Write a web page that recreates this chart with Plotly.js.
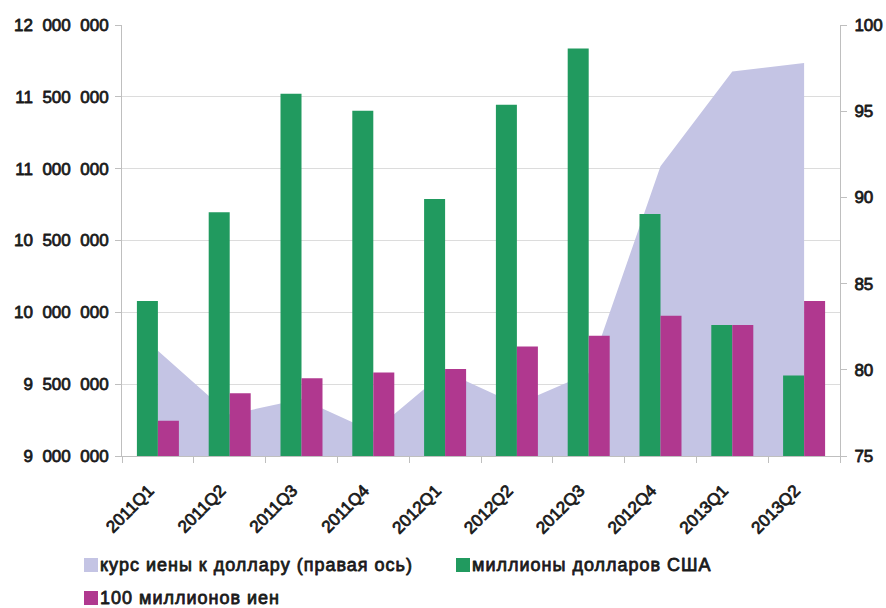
<!DOCTYPE html>
<html>
<head>
<meta charset="utf-8">
<script src="https://cdn.plot.ly/plotly-3.0.1.min.js"></script>
<style>
html,body{margin:0;padding:0;background:#fff;}
#chart{width:886px;height:608px;}
text.annotation-text{letter-spacing:1px;}
</style>
</head>
<body>
<div id="chart"></div>
<script>
var categories = ['2011Q1','2011Q2','2011Q3','2011Q4','2012Q1','2012Q2','2012Q3','2012Q4','2013Q1','2013Q2'];
var usdMillions = [10079000, 10696000, 11521000, 11403000, 10788000, 11445000, 11837000, 10684000, 9912000, 9561000];
var yen100Millions = [9246000, 9436000, 9541000, 9582000, 9605000, 9763000, 9837000, 9976000, 9912000, 10079000];
var yenRate = [81.1, 77.4, 78.3, 76.4, 79.9, 78.0, 79.8, 91.8, 97.3, 97.8];
var legendLabels = ['курс иены к доллару (правая ось)', 'миллионы долларов США', '100 миллионов иен'];

var cLav = '#c4c4e4', cGreen = '#219a5f', cMag = '#b0388f';
var FONT = 'Liberation Sans, Arial, sans-serif';

var M = {l:122, r:46, t:25, b:152};
var W = 886, H = 608, PW = W - M.l - M.r, PH = H - M.t - M.b;
function px(x){ return (x - M.l) / PW; }
function py(y){ return (H - M.b - y) / PH; }

var traces = [
  {type:'scatter', x:categories, y:yenRate, mode:'lines', fill:'tozeroy', fillcolor:cLav,
   line:{width:0, color:cLav}, xaxis:'x', yaxis:'y', showlegend:false, hoverinfo:'skip'},
  {type:'bar', x:categories, y:usdMillions, marker:{color:cGreen}, xaxis:'x', yaxis:'y2', showlegend:false},
  {type:'bar', x:categories, y:yen100Millions, marker:{color:cMag}, xaxis:'x', yaxis:'y2', showlegend:false}
];

var legendItems = [
  {sx:84, sy:565, color:cLav, tx:98, text:legendLabels[0]},
  {sx:456, sy:565, color:cGreen, tx:470, text:legendLabels[1]},
  {sx:84, sy:598, color:cMag, tx:98, text:legendLabels[2]}
];
var shapes = [], annotations = [];
legendItems.forEach(function(it){
  shapes.push({type:'rect', xref:'paper', yref:'paper', x0:px(it.sx), x1:px(it.sx+14),
    y0:py(it.sy+7), y1:py(it.sy-7), fillcolor:it.color, line:{width:0}});
  annotations.push({xref:'paper', yref:'paper', x:px(it.tx), y:py(it.sy), xanchor:'left', yanchor:'middle',
    showarrow:false, text:it.text, font:{family:FONT, size:18, color:'#1a1a1a'}});
});

var tickFont = {family:FONT, size:17, color:'#1a1a1a'};
var layout = {
  width:W, height:H, margin:M, paper_bgcolor:'#fff', plot_bgcolor:'#fff',
  separators:',\u2007',
  barmode:'group', bargap:0.415, bargroupgap:0,
  showlegend:false,
  xaxis:{type:'category', tickangle:-45, tickfont:{family:FONT, size:17, color:'#1a1a1a'},
    showline:true, linecolor:'#bfbfbf', linewidth:1, ticks:'outside', tickson:'boundaries', ticklen:6,
    tickcolor:'#bfbfbf', showgrid:false, zeroline:false, fixedrange:true,
    ticklabelstandoff:17, ticklabelshift:-9},
  yaxis:{side:'right', range:[75,100], dtick:5, tick0:75, showgrid:false, zeroline:false,
    showline:true, linecolor:'#bfbfbf', ticks:'outside', ticklen:6, tickcolor:'#bfbfbf',
    tickfont:tickFont, ticklabelstandoff:4},
  yaxis2:{overlaying:'y', side:'left', range:[9000000,12000000], dtick:500000, tick0:9000000,
    tickformat:',d', showgrid:true, gridcolor:'#dcdcdc', zeroline:false,
    showline:true, linecolor:'#bfbfbf', ticks:'outside', ticklen:6, tickcolor:'#bfbfbf',
    tickfont:tickFont, ticklabelstandoff:3},
  shapes:shapes, annotations:annotations
};
function embolden(){
  document.querySelectorAll('#chart text').forEach(function(t){
    t.setAttribute('stroke', '#1a1a1a');
    t.setAttribute('stroke-width', '0.8');
    t.style.setProperty('stroke', '#1a1a1a', 'important');
    t.style.setProperty('stroke-width', '0.8px', 'important');
    t.style.setProperty('stroke-linejoin', 'round');
  });
}
Plotly.newPlot('chart', traces, layout, {displayModeBar:false, staticPlot:true}).then(embolden);
</script>
</body>
</html>
